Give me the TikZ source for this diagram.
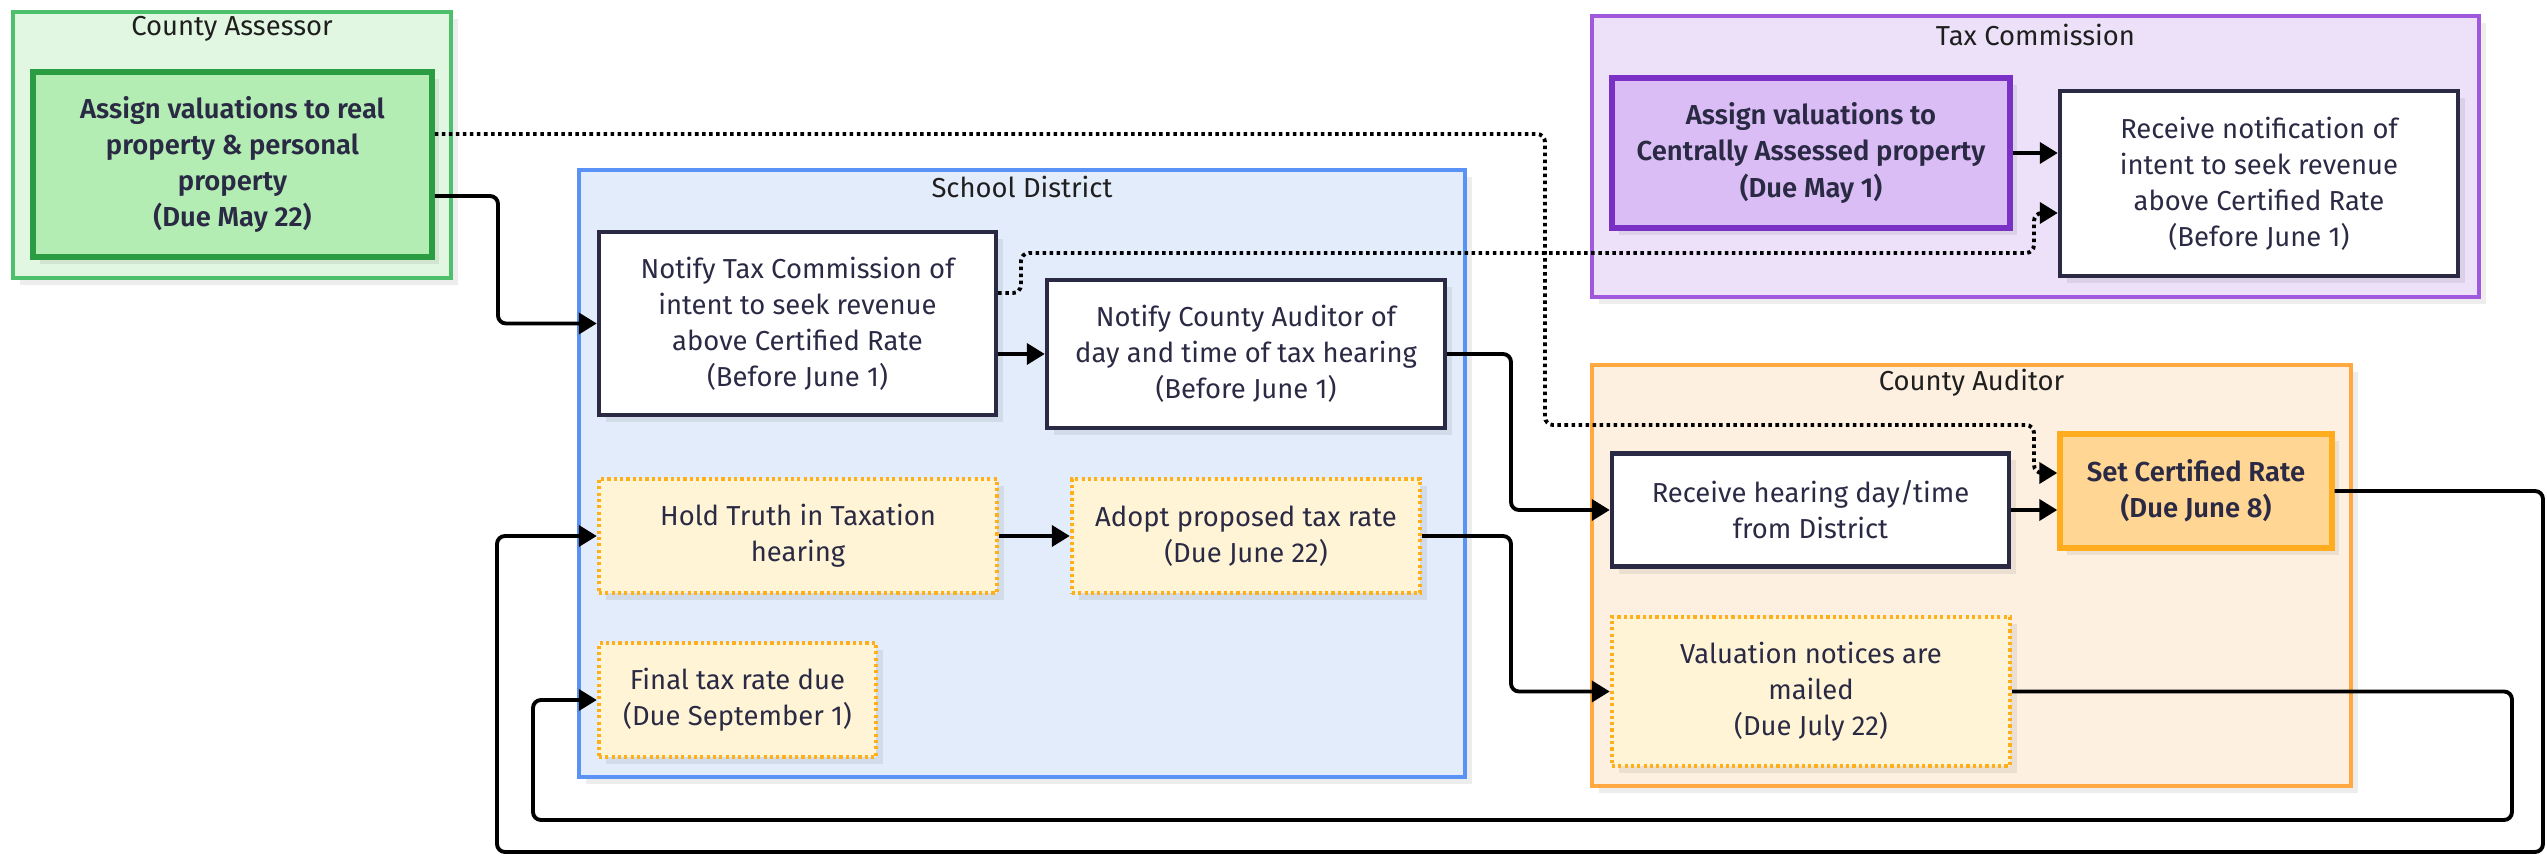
\documentclass[tikz,border=0pt]{standalone}
\usepackage{fontspec}
\setmainfont{Fira Sans}[BoldFont={Fira Sans SemiBold}]
\usepackage{xcolor}
\usetikzlibrary{arrows.meta,shadows}

\definecolor{inkc}{HTML}{2B2A45}
\definecolor{greenfill}{HTML}{E2F7E1}
\definecolor{greenline}{HTML}{4CC06A}
\definecolor{greennode}{HTML}{B4EDB4}
\definecolor{greendark}{HTML}{2A9D43}
\definecolor{bluefill}{HTML}{E3ECFA}
\definecolor{blueline}{HTML}{5A93F5}
\definecolor{purplefill}{HTML}{ECE1F8}
\definecolor{purpleline}{HTML}{A058DC}
\definecolor{purplenode}{HTML}{D9BDF4}
\definecolor{purpledark}{HTML}{7A30C5}
\definecolor{orangefill}{HTML}{FDF0E1}
\definecolor{orangeline}{HTML}{FFA940}
\definecolor{ratefill}{HTML}{FFD693}
\definecolor{rateline}{HTML}{FFAD1F}
\definecolor{notefill}{HTML}{FFF4D5}
\definecolor{noteline}{HTML}{FFAF1A}

\tikzset{
    softshadow/.style={drop shadow={shadow xshift=0.07cm, shadow yshift=-0.07cm, fill=black, opacity=0.07}},
    lane/.style={line width=1pt, softshadow},
    lanetitle/.style={text=black!88},
    task/.style={line width=1.2pt, align=center, inner sep=0pt, softshadow},
    plain/.style={task, draw=inkc, fill=white},
    todo/.style={task, draw=noteline, fill=notefill, dash pattern=on 0.9pt off 0.9pt},
    flow/.style={->, line width=1.1pt, rounded corners=0.08cm},
    hint/.style={flow, dash pattern=on 1pt off 1pt}
}

\begin{document}
\begin{tikzpicture}[x=0.01cm, y=-0.01cm, >={Triangle[length=0.18cm,width=0.21cm]},
    every node/.style={font=\fontsize{7.8}{10.24}\selectfont, text=inkc}]

    \useasboundingbox (0,0) rectangle (2547,858);

    % Lanes
    \draw[lane, draw=greenline, fill=greenfill] (13,12) rectangle (451,278);
    \draw[lane, draw=blueline, fill=bluefill] (579,170) rectangle (1465,777);
    \draw[lane, draw=purpleline, fill=purplefill] (1592,16) rectangle (2479,297);
    \draw[lane, draw=orangeline, fill=orangefill] (1592,365) rectangle (2351,786);

    \node[lanetitle] (assessorT) at (232,29) {County Assessor};
    \node[lanetitle] (districtT) at (1022,187) {School District};
    \node[lanetitle] (commissionT) at (2035.5,35) {Tax Commission};
    \node[lanetitle] (auditorT) at (1971.5,383) {County Auditor};

    % County Assessor
    \node[task, draw=greendark, fill=greennode, line width=1.5pt, font=\fontsize{7.8}{10.24}\selectfont\bfseries,
        minimum width=3.99cm, minimum height=1.85cm] (assess) at (232.5,164.5)
        {Assign valuations to real\\property \& personal\\property\\(Due May 22)};

    % School District
    \node[plain, minimum width=3.97cm, minimum height=1.83cm] (notifyTC) at (797.5,323.5)
        {Notify Tax Commission of\\intent to seek revenue\\above Certified Rate\\(Before June 1)};
    \node[plain, minimum width=3.98cm, minimum height=1.48cm] (notifyAud) at (1246,354)
        {Notify County Auditor of\\day and time of tax hearing\\(Before June 1)};
    \node[todo, minimum width=3.98cm, minimum height=1.14cm] (holdTruth) at (798,536)
        {Hold Truth in Taxation\\hearing};
    \node[todo, minimum width=3.48cm, minimum height=1.14cm] (adopt) at (1246,536)
        {Adopt proposed tax rate\\(Due June 22)};
    \node[todo, minimum width=2.77cm, minimum height=1.14cm] (finalTax) at (737.5,700)
        {Final tax rate due\\(Due September 1)};

    % Tax Commission
    \node[task, draw=purpledark, fill=purplenode, line width=1.5pt, font=\fontsize{7.8}{10.24}\selectfont\bfseries,
        minimum width=3.98cm, minimum height=1.5cm] (assignCA) at (1811,153)
        {Assign valuations to\\Centrally Assessed property\\(Due May 1)};
    \node[plain, minimum width=3.98cm, minimum height=1.85cm] (recvNotif) at (2259,183.5)
        {Receive notification of\\intent to seek revenue\\above Certified Rate\\(Before June 1)};

    % County Auditor
    \node[plain, minimum width=3.97cm, minimum height=1.13cm] (recvHearing) at (1810.5,510)
        {Receive hearing day/time\\from District};
    \node[task, draw=rateline, fill=ratefill, line width=1.5pt, font=\fontsize{7.8}{10.24}\selectfont\bfseries,
        minimum width=2.72cm, minimum height=1.14cm] (setRate) at (2196,491)
        {Set Certified Rate\\(Due June 8)};
    \node[todo, minimum width=3.98cm, minimum height=1.49cm] (valNotices) at (1811,691.5)
        {Valuation notices are\\mailed\\(Due July 22)};

    % Solid connectors
    \draw[flow] (assess.east |- 0,196) -- (498,196) |- (notifyTC.west);
    \draw[flow] (notifyTC.east |- notifyAud.west) -- (notifyAud.west);
    \draw[flow] (notifyAud.east) -- (1511,354) |- (recvHearing.west);
    \draw[flow] (recvHearing.east) -- (setRate.west |- recvHearing.east);
    \draw[flow] (assignCA.east) -- (recvNotif.west |- assignCA.east);
    \draw[flow] (holdTruth.east) -- (adopt.west);
    \draw[flow] (adopt.east) -- (1511,536) |- (valNotices.west);
    \draw[flow] (setRate.east) -- (2543,491) -- (2543,852) -- (497,852) |- (holdTruth.west);
    \draw[flow] (valNotices.east) -- (2512,691.5) -- (2512,820) -- (533,820) |- (finalTax.west);

    % Dotted connectors
    \draw[hint] (assess.east |- 0,134) -- (1545,134) -- (1545,425) -- (2034,425) |- (setRate.west |- 0,473);
    \draw[hint] (notifyTC.east |- 0,293) -- (1021,293) -- (1021,253) -- (2034,253) |- (recvNotif.west |- 0,213);

\end{tikzpicture}
\end{document}
